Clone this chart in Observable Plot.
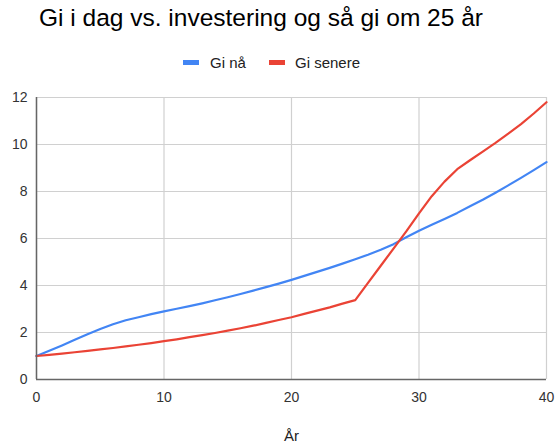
<!DOCTYPE html>
<html>
<head>
<meta charset="utf-8">
<script src="https://cdn.jsdelivr.net/npm/d3@7"></script>
<script src="https://cdn.jsdelivr.net/npm/@observablehq/plot@0.6"></script>
<style>
  body { margin: 0; background: #fff; font-family: Arial, "Liberation Sans", sans-serif; }
  #wrap { position: relative; width: 557px; height: 446px; }
  #title { position: absolute; left: 39px; top: 6px; font-size: 24.5px; line-height: 24.5px; color: #000; white-space: nowrap; }
  .sw { position: absolute; width: 16px; height: 5px; top: 60px; }
  .lt { position: absolute; top: 55px; font-size: 15px; line-height: 15px; color: #222; white-space: nowrap; }
  #chart { position: absolute; left: 0; top: 80px; }
</style>
</head>
<body>
<div id="wrap">
  <div id="title"></div>
  <div id="legend"></div>
  <div id="chart"></div>
</div>
<script>
const title = "Gi i dag vs. investering og så gi om 25 år";
const seriesNames = ["Gi nå", "Gi senere"];
const seriesColors = ["#4285F4", "#EA4335"];
const xLabel = "År";
const years = [0, 1, 2, 3, 4, 5, 6, 7, 8, 9,
  10, 11, 12, 13, 14, 15, 16, 17, 18, 19,
  20, 21, 22, 23, 24, 25, 26, 27, 28, 29,
  30, 31, 32, 33, 34, 35, 36, 37, 38, 39, 40];
const giNaa = [1.0, 1.22, 1.45, 1.69, 1.93, 2.15, 2.35, 2.52, 2.65, 2.78,
  2.9, 3.01, 3.12, 3.24, 3.37, 3.5, 3.64, 3.78, 3.93, 4.08,
  4.24, 4.41, 4.58, 4.75, 4.93, 5.12, 5.31, 5.52, 5.76, 6.05,
  6.33, 6.58, 6.83, 7.09, 7.37, 7.65, 7.95, 8.26, 8.58, 8.91, 9.25];
const giSenere = [1.0, 1.05, 1.1, 1.16, 1.22, 1.28, 1.34, 1.41, 1.48, 1.55,
  1.63, 1.71, 1.8, 1.89, 1.98, 2.08, 2.18, 2.29, 2.41, 2.53,
  2.65, 2.79, 2.93, 3.07, 3.23, 3.38, 4.11, 4.84, 5.57, 6.3,
  7.07, 7.8, 8.42, 8.95, 9.33, 9.7, 10.07, 10.46, 10.87, 11.32, 11.8];
const xTicks = [0, 10, 20, 30, 40];
const yTicks = [0, 2, 4, 6, 8, 10, 12];

document.getElementById("title").textContent = title;

// legend
const legend = document.getElementById("legend");
const legendPos = [{sw: 183, tx: 210}, {sw: 269, tx: 295}];
seriesNames.forEach((n, i) => {
  const s = document.createElement("div");
  s.className = "sw";
  s.style.left = legendPos[i].sw + "px";
  s.style.background = seriesColors[i];
  legend.appendChild(s);
  const t = document.createElement("div");
  t.className = "lt";
  t.style.left = legendPos[i].tx + "px";
  t.textContent = n;
  legend.appendChild(t);
});

const data = [];
years.forEach((y, i) => {
  data.push({year: y, value: giNaa[i], series: seriesNames[0]});
  data.push({year: y, value: giSenere[i], series: seriesNames[1]});
});

const chart = Plot.plot({
  width: 557,
  height: 366,
  marginTop: 17,
  marginBottom: 67,
  marginLeft: 36,
  marginRight: 11,
  style: {fontFamily: "Arial, 'Liberation Sans', sans-serif", background: "#fff", color: "#333"},
  x: {domain: [0, 40]},
  y: {domain: [0, 12]},
  color: {domain: seriesNames, range: seriesColors},
  marks: [
    Plot.gridY(yTicks, {stroke: "#d0d0d0", strokeOpacity: 1, strokeWidth: 1.2}),
    Plot.gridX(xTicks, {stroke: "#d0d0d0", strokeOpacity: 1, strokeWidth: 1.2}),
    Plot.axisY(yTicks, {tickSize: 0, tickPadding: 9, fontSize: 14, label: null, fill: "#333"}),
    Plot.axisX(xTicks, {tickSize: 0, tickPadding: 13, fontSize: 14, label: null, fill: "#333"}),
    Plot.line(data, {x: "year", y: "value", z: "series", stroke: "series", strokeWidth: 2.2, curve: "linear"}),
    Plot.ruleY([0], {stroke: "#666", strokeWidth: 1.5}),
    Plot.ruleX([0], {stroke: "#666", strokeWidth: 1.5}),
    Plot.text([xLabel], {frameAnchor: "bottom", dy: 61, fontSize: 15, fill: "#222"})
  ]
});
document.getElementById("chart").appendChild(chart);
</script>
</body>
</html>
